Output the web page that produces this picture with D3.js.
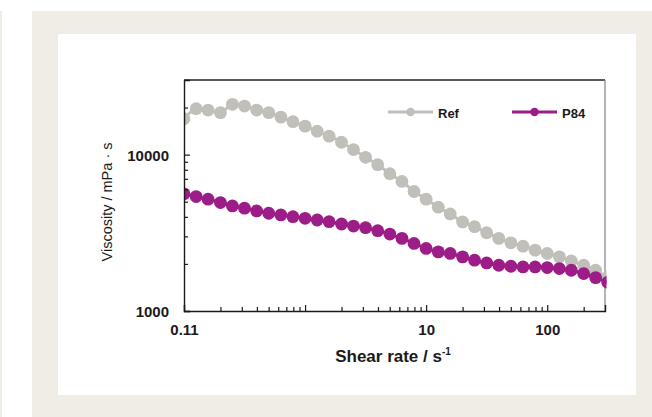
<!DOCTYPE html>
<html>
<head>
<meta charset="utf-8">
<script src="https://cdn.jsdelivr.net/npm/d3@7"></script>
<style>
  html, body { margin: 0; padding: 0; background: #ffffff; }
  svg { display: block; font-family: "Liberation Sans", Arial, sans-serif; }
</style>
</head>
<body>
<svg id="chart" width="652" height="417"></svg>
<script>
// shear rate (1/s) and viscosity (mPa·s)
const shearRate = [0.1, 0.126, 0.158, 0.2, 0.251, 0.316, 0.398, 0.501, 0.631, 0.794,
  1, 1.26, 1.58, 2, 2.51, 3.16, 3.98, 5.01, 6.31, 7.94,
  10, 12.6, 15.8, 20, 25.1, 31.6, 39.8, 50.1, 63.1, 79.4,
  100, 126, 158, 200, 251, 316];
const refViscosity = [16960, 19670, 19270, 18550, 20970, 20450, 19270, 18550, 17370, 16230,
  15210, 14120, 13110, 12000, 10770, 9610, 8625, 7550, 6735, 5810,
  5190, 4610, 4175, 3710, 3460, 3165, 2913, 2730, 2598, 2450,
  2333, 2218, 2091, 1961, 1822, 1643];
const p84Viscosity = [5613, 5393, 5190, 4935, 4699, 4542, 4364, 4219, 4113, 4010,
  3916, 3819, 3725, 3600, 3494, 3408, 3261, 3104, 2913, 2705,
  2512, 2388, 2333, 2218, 2112, 2030, 1961, 1933, 1913, 1913,
  1896, 1868, 1822, 1735, 1635, 1525];

const seriesNames = ["Ref", "P84"];
const seriesColors = ["#c0bfba", "#9c1d88"];

const xTickValues = [0.1, 1, 10, 100];
const xTickLabels = ["0.11", "", "10", "100"];
const xMinorTicks = [0.2, 0.3, 0.4, 0.5, 0.6, 0.7, 0.8, 0.9, 2, 3, 4, 5, 6, 7, 8, 9,
  20, 30, 40, 50, 60, 70, 80, 90, 200];
const yTickValues = [1000, 10000];
const yTickLabels = ["1000", "10000"];
const yMinorTicks = [2000, 3000, 4000, 5000, 6000, 7000, 8000, 9000, 20000];

const svg = d3.select("#chart");

// page background panels
svg.append("rect").attr("x", 0).attr("y", 11).attr("width", 2).attr("height", 406).attr("fill", "#f0ede6");
svg.append("rect").attr("x", 32).attr("y", 11).attr("width", 620).attr("height", 406).attr("fill", "#f0ede6");
svg.append("rect").attr("x", 58).attr("y", 34).attr("width", 578).attr("height", 361).attr("fill", "#ffffff");

const plotLeft = 184, plotRight = 605, plotTop = 80, plotBottom = 311;

const x = d3.scaleLog().domain([0.1, 300]).range([plotLeft, plotRight]);
const y = d3.scaleLog().domain([1000, 30000]).range([plotBottom, plotTop]);

// frame: top black, right grey
svg.append("line").attr("x1", plotLeft).attr("x2", plotRight).attr("y1", plotTop).attr("y2", plotTop)
  .attr("stroke", "#222").attr("stroke-width", 1.3);
svg.append("line").attr("x1", plotRight).attr("x2", plotRight).attr("y1", plotTop).attr("y2", plotBottom)
  .attr("stroke", "#8a8a8a").attr("stroke-width", 1.3);

// clip for the data
svg.append("clipPath").attr("id", "plotClip")
  .append("rect").attr("x", plotLeft).attr("y", plotTop - 10)
  .attr("width", plotRight - plotLeft + 1.5).attr("height", plotBottom - plotTop + 10);

const data = [refViscosity, p84Viscosity];
const line = d3.line()
  .x((d, i) => x(shearRate[i]))
  .y(d => y(d))
  .curve(d3.curveCatmullRom);

const plot = svg.append("g").attr("clip-path", "url(#plotClip)");
data.forEach((vals, k) => {
  const g = plot.append("g");
  g.append("path")
    .attr("d", line(vals))
    .attr("fill", "none")
    .attr("stroke", seriesColors[k])
    .attr("stroke-width", 3);
  g.selectAll("circle")
    .data(vals)
    .join("circle")
    .attr("cx", (d, i) => x(shearRate[i]))
    .attr("cy", d => y(d))
    .attr("r", 6.4)
    .attr("fill", seriesColors[k]);
});

// axes
const xAxis = svg.append("g")
  .attr("transform", `translate(0,${plotBottom})`)
  .call(d3.axisBottom(x).tickValues(xTickValues)
    .tickFormat((d, i) => xTickLabels[i]).tickSize(-6).tickPadding(13));
svg.append("g")
  .attr("transform", `translate(0,${plotBottom})`)
  .call(d3.axisBottom(x).tickValues(xMinorTicks).tickFormat("").tickSize(-4))
  .call(g => g.select(".domain").remove());

const yAxis = svg.append("g")
  .attr("transform", `translate(${plotLeft},0)`)
  .call(d3.axisLeft(y).tickValues(yTickValues)
    .tickFormat((d, i) => yTickLabels[i]).tickSize(-6).tickPadding(15));
svg.append("g")
  .attr("transform", `translate(${plotLeft},0)`)
  .call(d3.axisLeft(y).tickValues(yMinorTicks).tickFormat("").tickSize(-4))
  .call(g => g.select(".domain").remove());

svg.selectAll(".domain").attr("stroke", "#1a1a1a").attr("stroke-width", 1.4);
svg.selectAll(".tick line").attr("stroke", "#1a1a1a").attr("stroke-width", 1.2);
svg.selectAll(".tick text")
  .attr("font-family", "'Liberation Sans', Arial, sans-serif")
  .attr("font-size", 15).attr("font-weight", "bold").attr("fill", "#1a1a1a");
yAxis.selectAll(".tick text").attr("dy", "0.36em");

// axis titles
svg.append("text")
  .attr("transform", "translate(112,202) rotate(-90)")
  .attr("text-anchor", "middle")
  .attr("font-size", 14.5)
  .attr("fill", "#1a1a1a")
  .text("Viscosity / mPa · s");

const xt = svg.append("text")
  .attr("x", 393).attr("y", 362)
  .attr("text-anchor", "middle")
  .attr("font-size", 17).attr("font-weight", "bold")
  .attr("fill", "#1a1a1a");
xt.append("tspan").text("Shear rate / s");
xt.append("tspan").attr("font-size", 10).attr("dy", -7).text("-1");

// legend
const legendX = [388, 512];
seriesNames.forEach((name, k) => {
  const g = svg.append("g").attr("transform", `translate(${legendX[k]},112)`);
  g.append("line").attr("x1", 0).attr("x2", 45).attr("y1", 0).attr("y2", 0)
    .attr("stroke", seriesColors[k]).attr("stroke-width", 3);
  g.append("circle").attr("cx", 22.5).attr("cy", 0).attr("r", 4.2).attr("fill", seriesColors[k]);
  g.append("text").attr("x", 50).attr("y", 6)
    .attr("font-size", 13).attr("font-weight", "bold").attr("fill", "#1a1a1a")
    .text(name);
});
</script>
</body>
</html>
